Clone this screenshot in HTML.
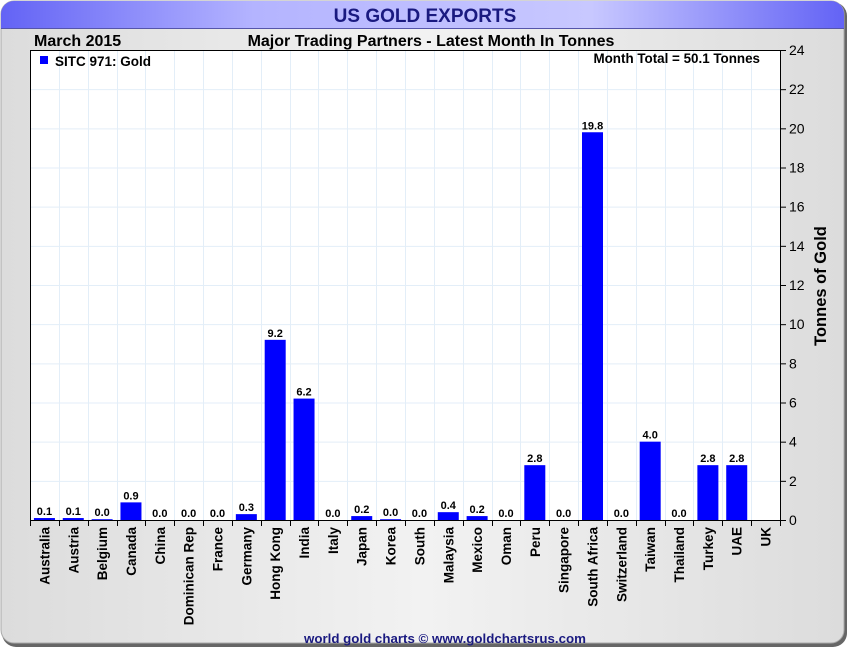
<!DOCTYPE html>
<html><head><meta charset="utf-8"><style>
body{margin:0;width:850px;height:650px;overflow:hidden;background:#fff;font-family:"Liberation Sans",sans-serif}
</style></head><body>
<svg id="c" width="850" height="650" xmlns="http://www.w3.org/2000/svg" font-family="Liberation Sans, sans-serif">
<defs>
<linearGradient id="bg" x1="0" x2="1"><stop offset="0" stop-color="#dcdcdc"/><stop offset="0.5" stop-color="#f2f2f2"/><stop offset="1" stop-color="#dcdcdc"/></linearGradient>
<linearGradient id="tb" x1="0" x2="1"><stop offset="0" stop-color="#6363f5"/><stop offset="0.3" stop-color="#b4b4ff"/><stop offset="0.7" stop-color="#c8c8ff"/><stop offset="1" stop-color="#6363f5"/></linearGradient>
</defs>
<rect x="2" y="2" width="845" height="645" rx="14" fill="#666"/>
<rect x="1" y="1" width="843" height="642" rx="13" fill="url(#bg)" stroke="#aaa"/>
<path d="M1,28 V14 A13,13 0 0 1 14,1 H831 A13,13 0 0 1 844,14 V28 Z" fill="url(#tb)"/>
<line x1="1" y1="28.5" x2="844" y2="28.5" stroke="#5555aa"/>
<text x="425" y="22" text-anchor="middle" font-size="19" font-weight="bold" fill="#1a1a80">US GOLD EXPORTS</text>
<text x="34" y="46" font-size="16" font-weight="bold">March 2015</text>
<text x="431" y="46" text-anchor="middle" font-size="16" font-weight="bold">Major Trading Partners - Latest Month In Tonnes</text>
<rect x="30" y="50" width="750" height="470" fill="#fff"/>
<g id="grid"></g>
<g id="bars"></g>
<rect x="30.5" y="50.5" width="750" height="470" fill="none" stroke="#000"/>
<g id="axes"></g>
<rect x="40" y="56" width="8" height="8" fill="#0000ff"/>
<text x="55" y="66" font-size="13.5" font-weight="bold">SITC 971: Gold</text>
<text x="760" y="63" text-anchor="end" font-size="13.4" font-weight="bold">Month Total = 50.1 Tonnes</text>
<text transform="translate(826,286) rotate(-90)" text-anchor="middle" font-size="16.5" font-weight="bold">Tonnes of Gold</text>
<text x="445" y="643" text-anchor="middle" font-size="13.3" font-weight="bold" fill="#1a1a80">world gold charts © www.goldchartsrus.com</text>
</svg>
<script>
const categories=["Australia","Austria","Belgium","Canada","China","Dominican Rep","France","Germany","Hong Kong","India","Italy","Japan","Korea","South","Malaysia","Mexico","Oman","Peru","Singapore","South Africa","Switzerland","Taiwan","Thailand","Turkey","UAE","UK"];
const values=[0.1,0.1,0.04,0.9,0,0,0,0.3,9.2,6.2,0,0.2,0.04,0,0.4,0.2,0,2.8,0,19.8,0,4.0,0,2.8,2.8,null];
const yTicks=[0,2,4,6,8,10,12,14,16,18,20,22,24];
const NS="http://www.w3.org/2000/svg";
const L=30,R=780,T=50,B=520,YMAX=24;
const bw=(R-L)/categories.length;
function y(v){return B-(v/YMAX)*(B-T);}
function x(i){return L+bw*i;}
function mk(t,a,p){const e=document.createElementNS(NS,t);for(const k in a)e.setAttribute(k,a[k]);p.appendChild(e);return e;}
const grid=document.getElementById('grid'),bars=document.getElementById('bars'),axes=document.getElementById('axes');
yTicks.forEach(t=>{
 const g=mk('line',{x1:L,x2:R,y1:y(t)+0.5,y2:y(t)+0.5,stroke:'#e3eef8'},grid);
 
 
 const tk=mk('line',{x1:R,x2:R+6,y1:y(t)+0.5,y2:y(t)+0.5,stroke:'#000'},axes);
 
 
 const tl=mk('text',{x:R+9,y:y(t)+5,'font-size':14},axes);
 tl.textContent=t;
 
 
});
categories.forEach((c,i)=>{
 const gx=Math.round(x(i+1))+0.5;
 if(i<categories.length-1){
  const g=mk('line',{x1:gx,x2:gx,y1:T,y2:B,stroke:'#e3eef8'},grid);
  
  
 }
 const tk=mk('line',{x1:Math.round(x(i))+0.5,x2:Math.round(x(i))+0.5,y1:B,y2:B+6,stroke:'#000'},axes);
 
 
 const cx=x(i)+bw/2;
 const lb=mk('text',{transform:`translate(${cx+5},527) rotate(-90)`,'text-anchor':'end','font-size':13.5,'font-weight':'bold'},axes);
 lb.textContent=c;
 
 
 const v=values[i];
 if(v===null)return;
 const h=B-y(v);
 const r=mk('rect',{x:cx-10.5,y:y(v),width:21,height:h,fill:'#0000ff'},bars);
 
 
 const vl=mk('text',{x:cx,y:y(v)-3,'text-anchor':'middle','font-size':11,'font-weight':'bold'},bars);
 vl.textContent=v.toFixed(1);
 
 
});
const xt=mk('line',{x1:R+0.5,x2:R+0.5,y1:B,y2:B+6,stroke:'#000'},axes);


</script>
</body></html>
